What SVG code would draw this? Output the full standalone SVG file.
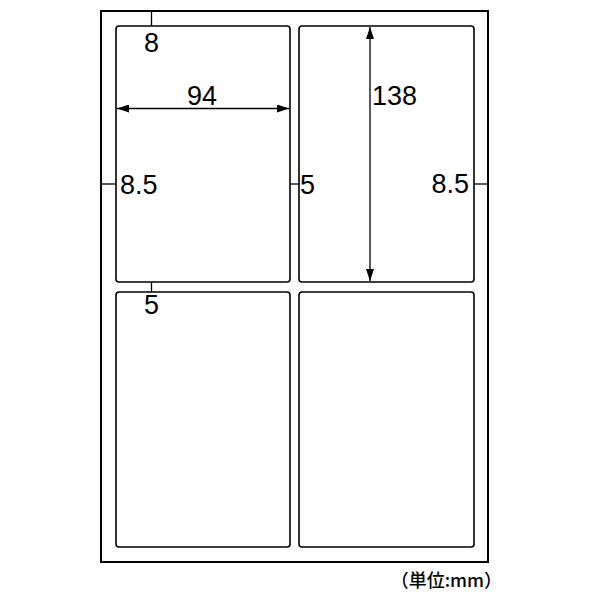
<svg xmlns="http://www.w3.org/2000/svg" width="600" height="600" viewBox="0 0 600 600">
<style>
.sheet{fill:#fff;stroke:#000;stroke-width:2}
.label{fill:#fff;stroke:#000;stroke-width:1.6}
.ln{stroke:#000;stroke-width:1.3;fill:none}
.t{font-family:"Liberation Sans",Arial,sans-serif;font-size:27px;fill:#000}
.u{font-family:"Noto Sans CJK JP","Noto Sans",sans-serif;font-size:18px;font-weight:500;fill:#000}
</style>
<defs>
<marker id="ah" viewBox="0 0 12 8" refX="12" refY="4" markerWidth="12" markerHeight="8" markerUnits="userSpaceOnUse" orient="auto-start-reverse">
<path d="M0,0 L12,4 L0,8 Z" fill="#000"/>
</marker>
</defs>
<rect width="600" height="600" fill="#fff"/>
<g id="sheet"><rect class="sheet" x="101" y="11" width="387" height="551"/></g>
<g id="label1"><rect class="label" x="116" y="26" width="174" height="256" rx="3"/></g>
<g id="label2"><rect class="label" x="299" y="26" width="175" height="256" rx="3"/></g>
<g id="label3"><rect class="label" x="116" y="292" width="174" height="255" rx="3"/></g>
<g id="label4"><rect class="label" x="299" y="292" width="175" height="255" rx="3"/></g>
<g id="connectors">
<line class="ln" x1="151.5" y1="11" x2="151.5" y2="26"/>
<line class="ln" x1="151.5" y1="282" x2="151.5" y2="292"/>
<line class="ln" x1="101" y1="184" x2="116" y2="184"/>
<line class="ln" x1="290" y1="184" x2="299" y2="184"/>
<line class="ln" x1="474" y1="184" x2="488" y2="184"/>
<line class="ln" x1="117" y1="108.5" x2="289" y2="108.5" marker-start="url(#ah)" marker-end="url(#ah)"/>
<line class="ln" x1="370" y1="27" x2="370" y2="281" marker-start="url(#ah)" marker-end="url(#ah)"/>
</g>
<g id="texts">
<text class="t" x="151.5" y="52" text-anchor="middle">8</text>
<text class="t" x="202" y="105" text-anchor="middle">94</text>
<text class="t" x="120" y="194">8.5</text>
<text class="t" x="300" y="194">5</text>
<text class="t" x="151.5" y="314" text-anchor="middle">5</text>
<text class="t" x="372" y="105">138</text>
<text class="t" x="469" y="193" text-anchor="end">8.5</text>
<text class="u" x="502" y="587" text-anchor="end">（単位:mm）</text>
</g>
</svg>
